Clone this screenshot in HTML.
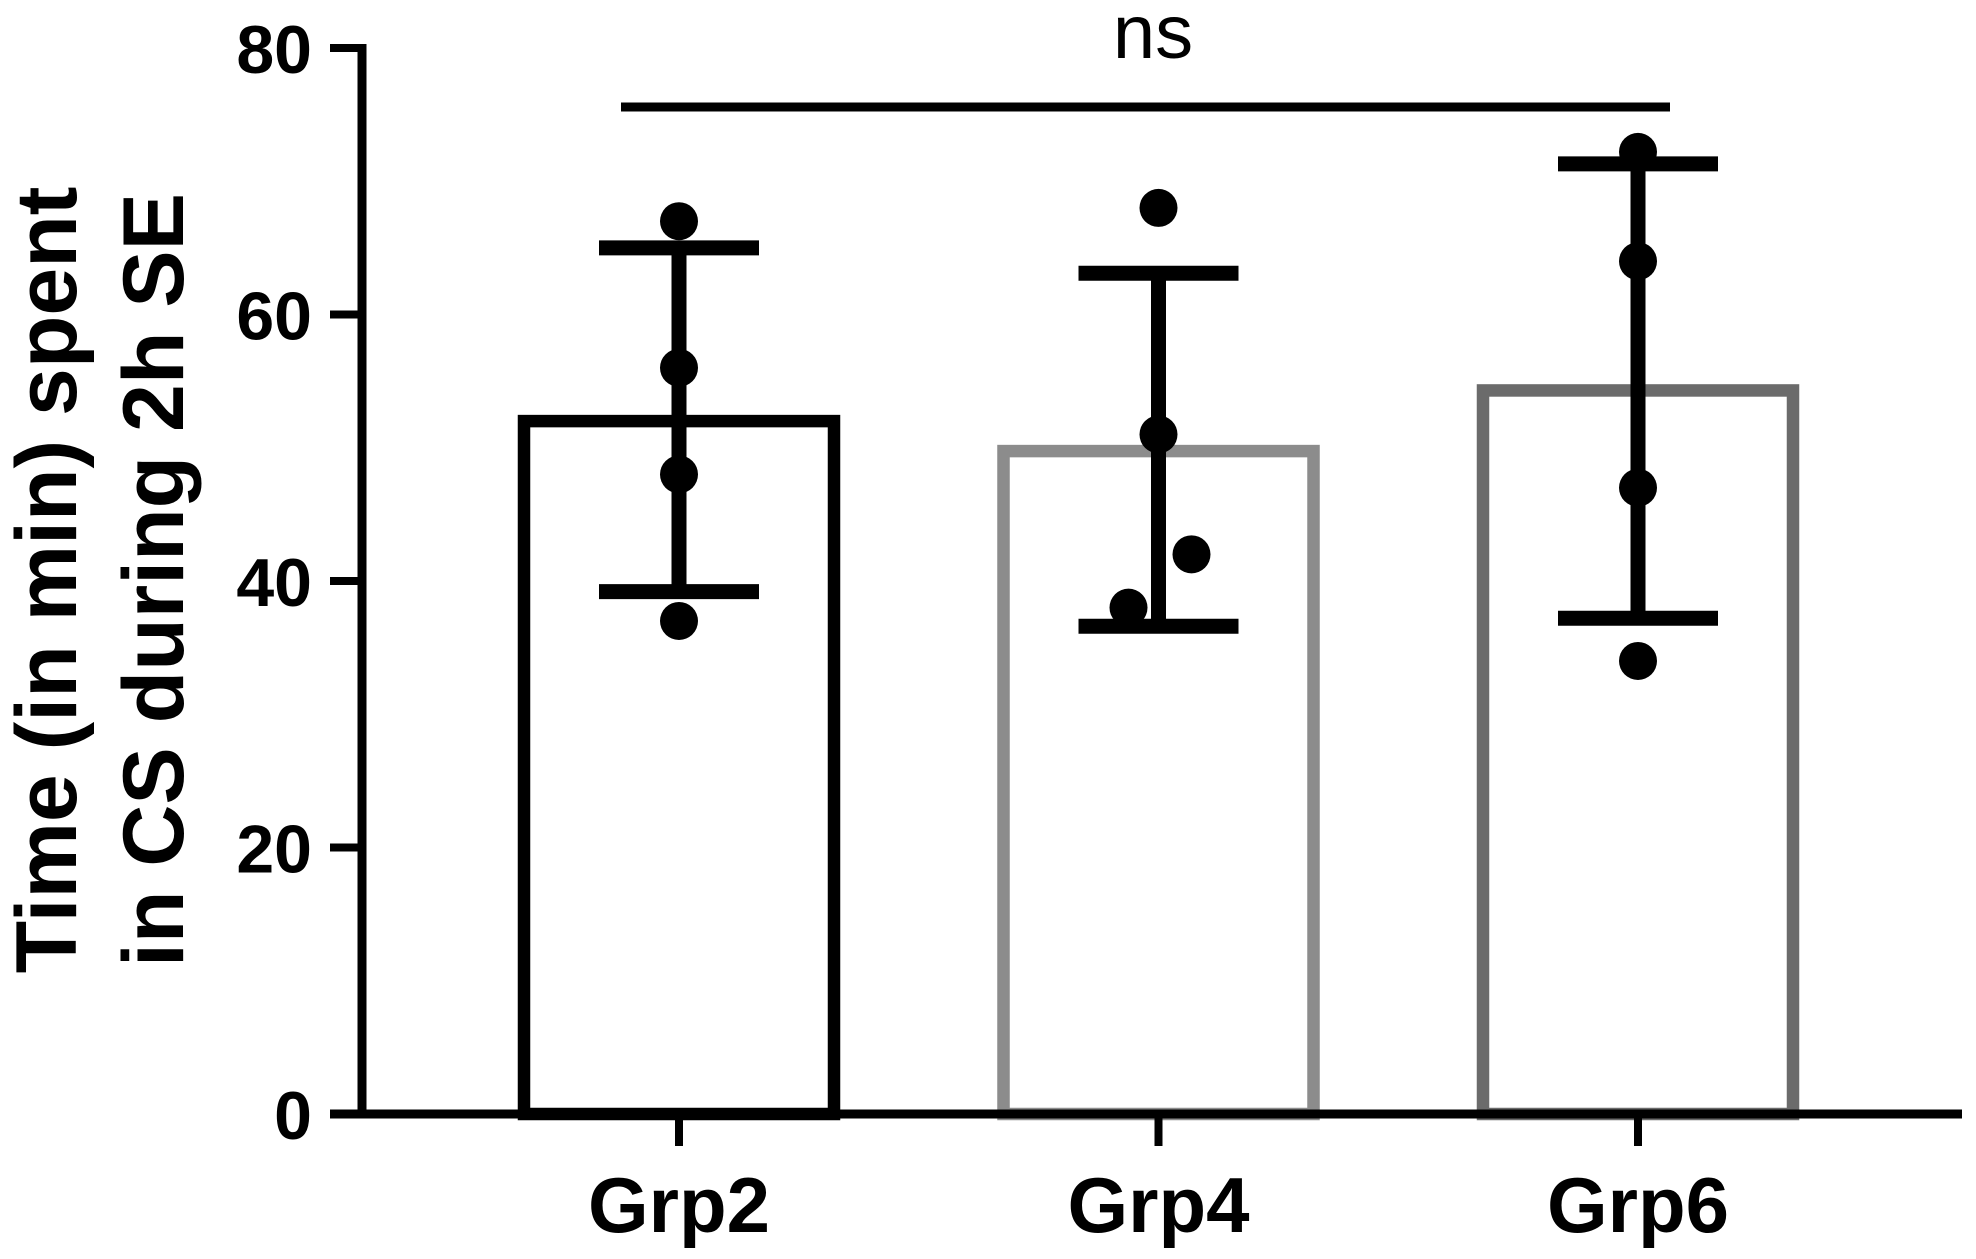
<!DOCTYPE html>
<html><head><meta charset="utf-8"><style>body{margin:0;background:#fff}svg{display:block}text{font-family:"Liberation Sans",Arial,sans-serif}</style></head>
<body>
<svg id="chart" width="1976" height="1259" viewBox="0 0 1976 1259">
<g id="g"></g>
</svg>
<script>
const categories = ["Grp2","Grp4","Grp6"];
const means = [52, 49.75, 54.3];
const errTop = [65, 63.1, 71.3];
const errBottom = [39.2, 36.6, 37.2];
const points = [[67,56,48,37],[68,51,42,38],[72.2,64,47,34]];
const pointJitter = [[0,0,0,0],[0,0,33,-30],[0,0,0,0]];
const yTicks = [0,20,40,60,80];
const colors = ["#000","#8c8c8c","#6b6b6b"];
const NS = "http://www.w3.org/2000/svg";
const g = document.getElementById('g');
const y = v => 1114 - v*(1114-48)/80;
const x = i => 679 + i*479.5;
function el(t,a,txt){const e=document.createElementNS(NS,t);for(const k in a)e.setAttribute(k,a[k]);if(txt!==undefined)e.textContent=txt;g.appendChild(e);return e;}
categories.forEach((c,i)=>{
  const b=el('rect',{x:x(i)-155,y:y(means[i]),width:310,height:1114-y(means[i]),fill:'none',stroke:colors[i],'stroke-width':12.5});
  
  
});
const ya=el('line',{x1:362,y1:44,x2:362,y2:1114,stroke:'#000','stroke-width':9});


const xa=el('line',{x1:330,y1:1114,x2:1962,y2:1114,stroke:'#000','stroke-width':9});


yTicks.forEach(t=>{
  const tk=el('line',{x1:330,y1:y(t),x2:362,y2:y(t),stroke:'#000','stroke-width':8});
  
  
  const lb=el('text',{x:312,y:y(t)+25,'text-anchor':'end','font-size':68,'font-weight':'bold'},t);
  
  
});
categories.forEach((c,i)=>{
  const tk=el('line',{x1:x(i),y1:1114,x2:x(i),y2:1146,stroke:'#000','stroke-width':8});
  
  
  const lb=el('text',{x:x(i),y:1232,'text-anchor':'middle','font-size':78,'font-weight':'bold'},c);
  
  
  const eb=el('line',{x1:x(i),y1:y(errTop[i]),x2:x(i),y2:y(errBottom[i]),stroke:'#000','stroke-width':15});
  
  
  [errTop[i],errBottom[i]].forEach(v=>{
    const cp=el('line',{x1:x(i)-80,y1:y(v),x2:x(i)+80,y2:y(v),stroke:'#000','stroke-width':15});
    
    
  });
  points[i].forEach((v,j)=>{
    const p=el('circle',{cx:x(i)+pointJitter[i][j],cy:y(v),r:19,fill:'#000'});
    
    
  });
});
const br=el('line',{x1:621,y1:107,x2:1670,y2:107,stroke:'#000','stroke-width':9});


const ns=el('text',{x:1153,y:58,'text-anchor':'middle','font-size':76},'ns');


const t1=el('text',{x:0,y:0,'text-anchor':'middle','font-size':86,'font-weight':'bold',transform:'translate(76,580) rotate(-90)'},'Time (in min) spent');


const t2=el('text',{x:0,y:0,'text-anchor':'middle','font-size':86,'font-weight':'bold',transform:'translate(183,580) rotate(-90)'},'in CS during 2h SE');


</script>
</body></html>
